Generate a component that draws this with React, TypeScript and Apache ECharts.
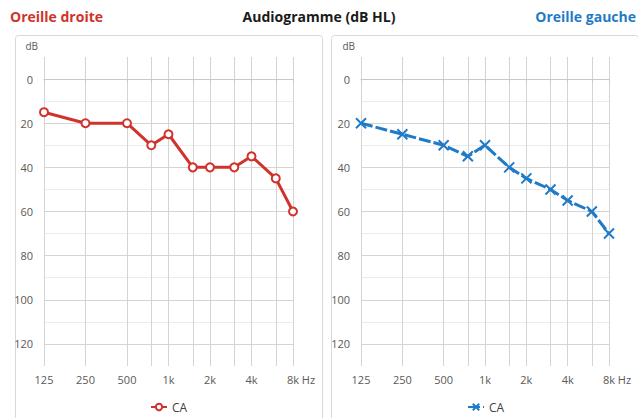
import React, { useEffect, useRef } from 'react';
import * as echarts from 'echarts';

// Frequencies (Hz) tested
const frequencies = [125, 250, 500, 750, 1000, 1500, 2000, 3000, 4000, 6000, 8000];
// Air conduction (CA), dB HL
const rightEarCA = [15, 20, 20, 30, 25, 40, 40, 40, 35, 45, 60]; // Oreille droite
const leftEarCA = [20, 25, 30, 35, 30, 40, 45, 50, 55, 60, 70]; // Oreille gauche
// Axis labels
const freqLabelValues = [125, 250, 500, 1000, 2000, 4000, 8000];
const dbLabelValues = [0, 20, 40, 60, 80, 100, 120];

const RED = '#d0332b';
const BLUE = '#1f7bc7';
const FONT = '"Open Sans", "Noto Sans", sans-serif';

const fmtFreq = (v: number) => {
  if (Math.abs(v - 8000) < 1) return '{p|8k Hz}';
  return v >= 1000 ? `${Math.round(v / 1000)}k` : `${Math.round(v)}`;
};

function xAxisDef(gridIndex: number) {
  return {
    type: 'log',
    logBase: 2,
    gridIndex,
    min: 125,
    max: 8000,
    axisLine: { show: true, lineStyle: { color: '#c8c8c8', width: 1 } },
    axisTick: { show: true, length: 3, customValues: frequencies, lineStyle: { color: '#c8c8c8' } },
    axisLabel: {
      customValues: freqLabelValues,
      formatter: fmtFreq,
      color: '#595959',
      fontSize: 11,
      fontFamily: FONT,
      margin: 8,
      rich: { p: { padding: [0, 0, 0, 16], color: '#595959', fontSize: 11, fontFamily: FONT } },
    },
    splitLine: { show: true, lineStyle: { color: '#d4d4d4', width: 1 } },
  };
}

function yAxisDef(gridIndex: number) {
  return {
    type: 'value',
    gridIndex,
    inverse: true,
    min: -10,
    max: 130,
    interval: 10,
    name: 'dB',
    nameLocation: 'start',
    nameGap: 6,
    nameTextStyle: { color: '#595959', fontSize: 10, fontFamily: FONT, align: 'right', padding: [0, 6, 0, 0] },
    axisLine: { show: false },
    axisTick: { show: false },
    axisLabel: {
      color: '#595959',
      fontSize: 11,
      fontFamily: FONT,
      margin: 11,
      formatter: (v: number) => (dbLabelValues.indexOf(v) >= 0 ? String(v) : ''),
    },
    splitLine: {
      show: true,
      showMinLine: false,
      showMaxLine: false,
      lineStyle: { color: ['#d4d4d4', '#ebebeb'], width: 1 },
    },
  };
}

export default function App() {
  const ref = useRef<HTMLDivElement>(null);
  useEffect(() => {
    if (!ref.current) return;
    const chart = echarts.init(ref.current, undefined, { renderer: 'svg' });
    const titleStyle = { fontSize: 14, fontWeight: 'bold', fontFamily: FONT };
    chart.setOption({
      animation: false,
      backgroundColor: '#ffffff',
      textStyle: { fontFamily: FONT },
      title: [
        { text: 'Oreille droite', left: 10, top: 9, padding: 0, textStyle: { ...titleStyle, color: RED } },
        { text: 'Audiogramme (dB HL)', left: 'center', top: 9, padding: 0, textStyle: { ...titleStyle, color: '#1a1a1a' } },
        { text: 'Oreille gauche', right: 2, top: 9, padding: 0, textStyle: { ...titleStyle, color: BLUE } },
      ],
      graphic: [
        { type: 'rect', left: 13, top: 33, z: -1, shape: { width: 307, height: 400, r: 3 }, style: { fill: 'none', stroke: '#d9d9d9', lineWidth: 1 } },
        { type: 'rect', left: 329, top: 33, z: -1, shape: { width: 307, height: 400, r: 3 }, style: { fill: 'none', stroke: '#d9d9d9', lineWidth: 1 } },
      ],
      legend: [
        {
          data: ['CA droite'],
          left: 145,
          top: 396,
          itemWidth: 16,
          itemHeight: 8,
          itemGap: 6,
          formatter: () => 'CA',
          textStyle: { color: '#404040', fontSize: 12, fontFamily: FONT },
        },
        {
          data: ['CA gauche'],
          left: 462,
          top: 396,
          itemWidth: 16,
          itemHeight: 8,
          itemGap: 6,
          formatter: () => 'CA',
          textStyle: { color: '#404040', fontSize: 12, fontFamily: FONT },
        },
      ],
      grid: [
        { left: 44, top: 57, width: 249, height: 309, containLabel: false },
        { left: 361, top: 57, width: 248, height: 309, containLabel: false },
      ],
      xAxis: [xAxisDef(0), xAxisDef(1)],
      yAxis: [yAxisDef(0), yAxisDef(1)],
      series: [
        {
          name: 'CA droite',
          type: 'line',
          xAxisIndex: 0,
          yAxisIndex: 0,
          data: frequencies.map((f, i) => [f, rightEarCA[i]]),
          symbol: 'emptyCircle',
          symbolSize: 8,
          lineStyle: { color: RED, width: 3 },
          itemStyle: { color: RED, borderColor: RED, borderWidth: 2 },
          z: 5,
        },
        {
          name: 'CA gauche',
          type: 'line',
          xAxisIndex: 1,
          yAxisIndex: 1,
          data: frequencies.map((f, i) => [f, leftEarCA[i]]),
          symbol: 'path://M0,0L10,10M10,0L0,10',
          symbolSize: 10,
          lineStyle: { color: BLUE, width: 3, type: [12, 3] },
          itemStyle: { color: BLUE, borderColor: BLUE, borderWidth: 2 },
          z: 5,
        },
      ],
    });
    return () => chart.dispose();
  }, []);
  return <div ref={ref} style={{ position: 'fixed', left: 0, top: 0, width: 638, height: 418 }} />;
}
